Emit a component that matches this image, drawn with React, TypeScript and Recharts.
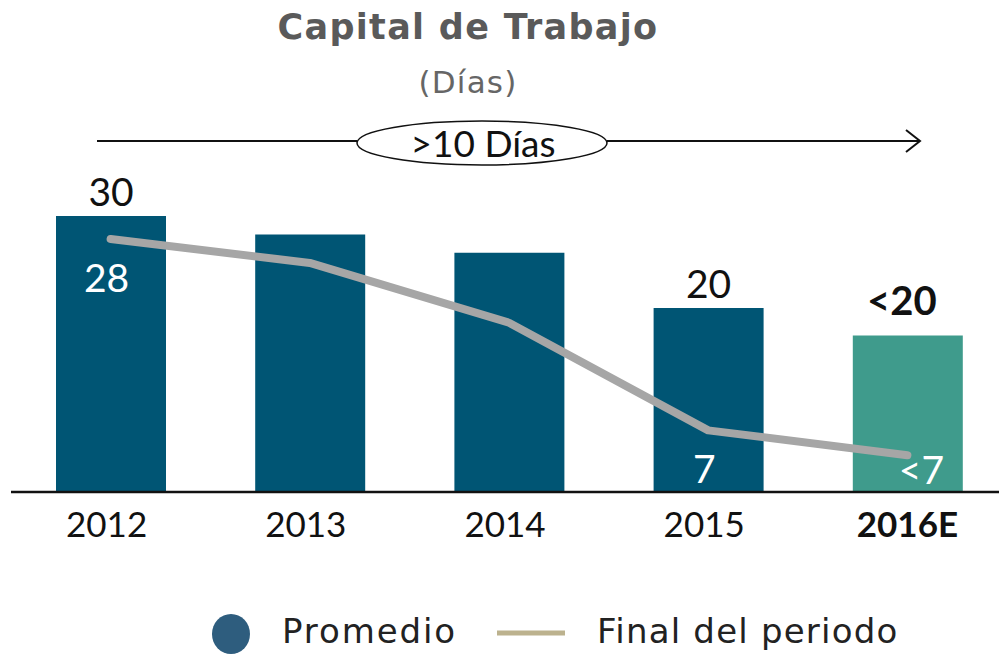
import React from "react";
import { ComposedChart, Bar, Line, XAxis, YAxis, Cell, LabelList } from "recharts";

const categories = ["2012", "2013", "2014", "2015", "2016E"];
const promedio = [30, 28, 26, 20, 17];
const finalPeriodo = [27.5, 24.9, 18.4, 6.7, 4];
const promedioLabels = ["30", "", "", "20", "<20"];
const finalLabels = ["28", "", "", "7", "<7"];
const boldCategories = ["2016E"];
const title = "Capital de Trabajo";
const subtitle = "(Días)";
const arrowText = ">10 Días";
const legendNames = ["Promedio", "Final del periodo"];

const data = categories.map((c, i) => ({
  name: c,
  promedio: promedio[i],
  final: finalPeriodo[i],
  pLabel: promedioLabels[i],
  fLabel: finalLabels[i],
}));

const LABEL_FONT = "Lato, 'Open Sans', sans-serif";
const WIDE_FONT = "'DejaVu Sans', sans-serif";

const BarLabel = (props: any) => {
  const { x, y, width, index } = props;
  const t = promedioLabels[index];
  if (!t) return null;
  const est = t.startsWith("<");
  return (
    <text
      x={x + width / 2 - (est ? 6 : 0)}
      y={y - (est ? 21 : 10)}
      textAnchor="middle"
      fontFamily={LABEL_FONT}
      fontSize={est ? 40 : 39}
      fontWeight={est ? 700 : 400}
      fill="#111"
    >
      {t}
    </text>
  );
};

const LineLabel = (props: any) => {
  const { x, y, index } = props;
  const t = finalLabels[index];
  if (!t) return null;
  const est = t.startsWith("<");
  return (
    <text
      x={x + (est ? 14 : -4)}
      y={Math.min(y + 53, 484)}
      textAnchor="middle"
      fontFamily={LABEL_FONT}
      fontSize={39}
      fill="#fff"
    >
      {t}
    </text>
  );
};

const Tick = (props: any) => {
  const { x, y, payload } = props;
  const bold = boldCategories.includes(payload.value);
  return (
    <text
      x={x - (bold ? 0 : 4)}
      y={y + 37}
      textAnchor="middle"
      fontFamily={LABEL_FONT}
      fontSize={35}
      fontWeight={bold ? 700 : 400}
      fill="#111"
    >
      {payload.value}
    </text>
  );
};

export default function App() {
  return (
    <div style={{ position: "absolute", left: 0, top: 0, width: 999, height: 655, overflow: "hidden", background: "#fff" }}>
      <svg width={999} height={200} style={{ position: "absolute", left: 0, top: 0 }}>
        <text x={468} y={39} textAnchor="middle" fontFamily={WIDE_FONT} fontWeight={700} fontSize={35} letterSpacing={1.3} fill="#5a5a5a">
          {title}
        </text>
        <text x={468} y={93} textAnchor="middle" fontFamily={WIDE_FONT} fontSize={31} letterSpacing={1.2} fill="#666">
          {subtitle}
        </text>
        <line x1={97} y1={141} x2={357} y2={141} stroke="#111" strokeWidth={2} />
        <line x1={607} y1={141} x2={920} y2={141} stroke="#111" strokeWidth={2} />
        <polyline points="906,130 920,141 906,152" fill="none" stroke="#111" strokeWidth={2} />
        <ellipse cx={482} cy={143} rx={125} ry={22} fill="#fff" stroke="#111" strokeWidth={1.5} />
        <text x={483} y={157} textAnchor="middle" fontFamily={LABEL_FONT} fontSize={37} fill="#111">
          {arrowText}
        </text>
      </svg>
      <div style={{ position: "absolute", left: 0, top: 0 }}>
        <ComposedChart width={1010} height={655} data={data} margin={{ top: 216, right: 3, left: 11, bottom: 113 }}>
          <XAxis
            dataKey="name"
            height={50}
            axisLine={{ stroke: "#111", strokeWidth: 2.5 }}
            tickLine={false}
            tick={<Tick />}
            interval={0}
          />
          <YAxis hide domain={[0, 30]} />
          <Bar dataKey="promedio" barSize={110} isAnimationActive={false}>
            {data.map((d, i) => (
              <Cell key={d.name} fill={i === data.length - 1 ? "#3f9b8c" : "#005574"} />
            ))}
            <LabelList dataKey="pLabel" content={<BarLabel />} />
          </Bar>
          <Line
            dataKey="final"
            type="linear"
            stroke="#a6a6a6"
            strokeWidth={8}
            strokeLinecap="round"
            strokeLinejoin="round"
            dot={false}
            activeDot={false}
            isAnimationActive={false}
          >
            <LabelList dataKey="fLabel" content={<LineLabel />} />
          </Line>
        </ComposedChart>
      </div>
      <svg width={999} height={60} style={{ position: "absolute", left: 0, top: 600 }}>
        <ellipse cx={231} cy={34} rx={19} ry={20} fill="#2e5d7e" />
        <text x={282} y={43} fontFamily={WIDE_FONT} fontSize={34} letterSpacing={1.9} fill="#222">
          {legendNames[0]}
        </text>
        <line x1={497} y1={33} x2={565} y2={33} stroke="#bcb28e" strokeWidth={5} />
        <text x={597} y={43} fontFamily={WIDE_FONT} fontSize={34} letterSpacing={1.2} fill="#222">
          {legendNames[1]}
        </text>
      </svg>
    </div>
  );
}
